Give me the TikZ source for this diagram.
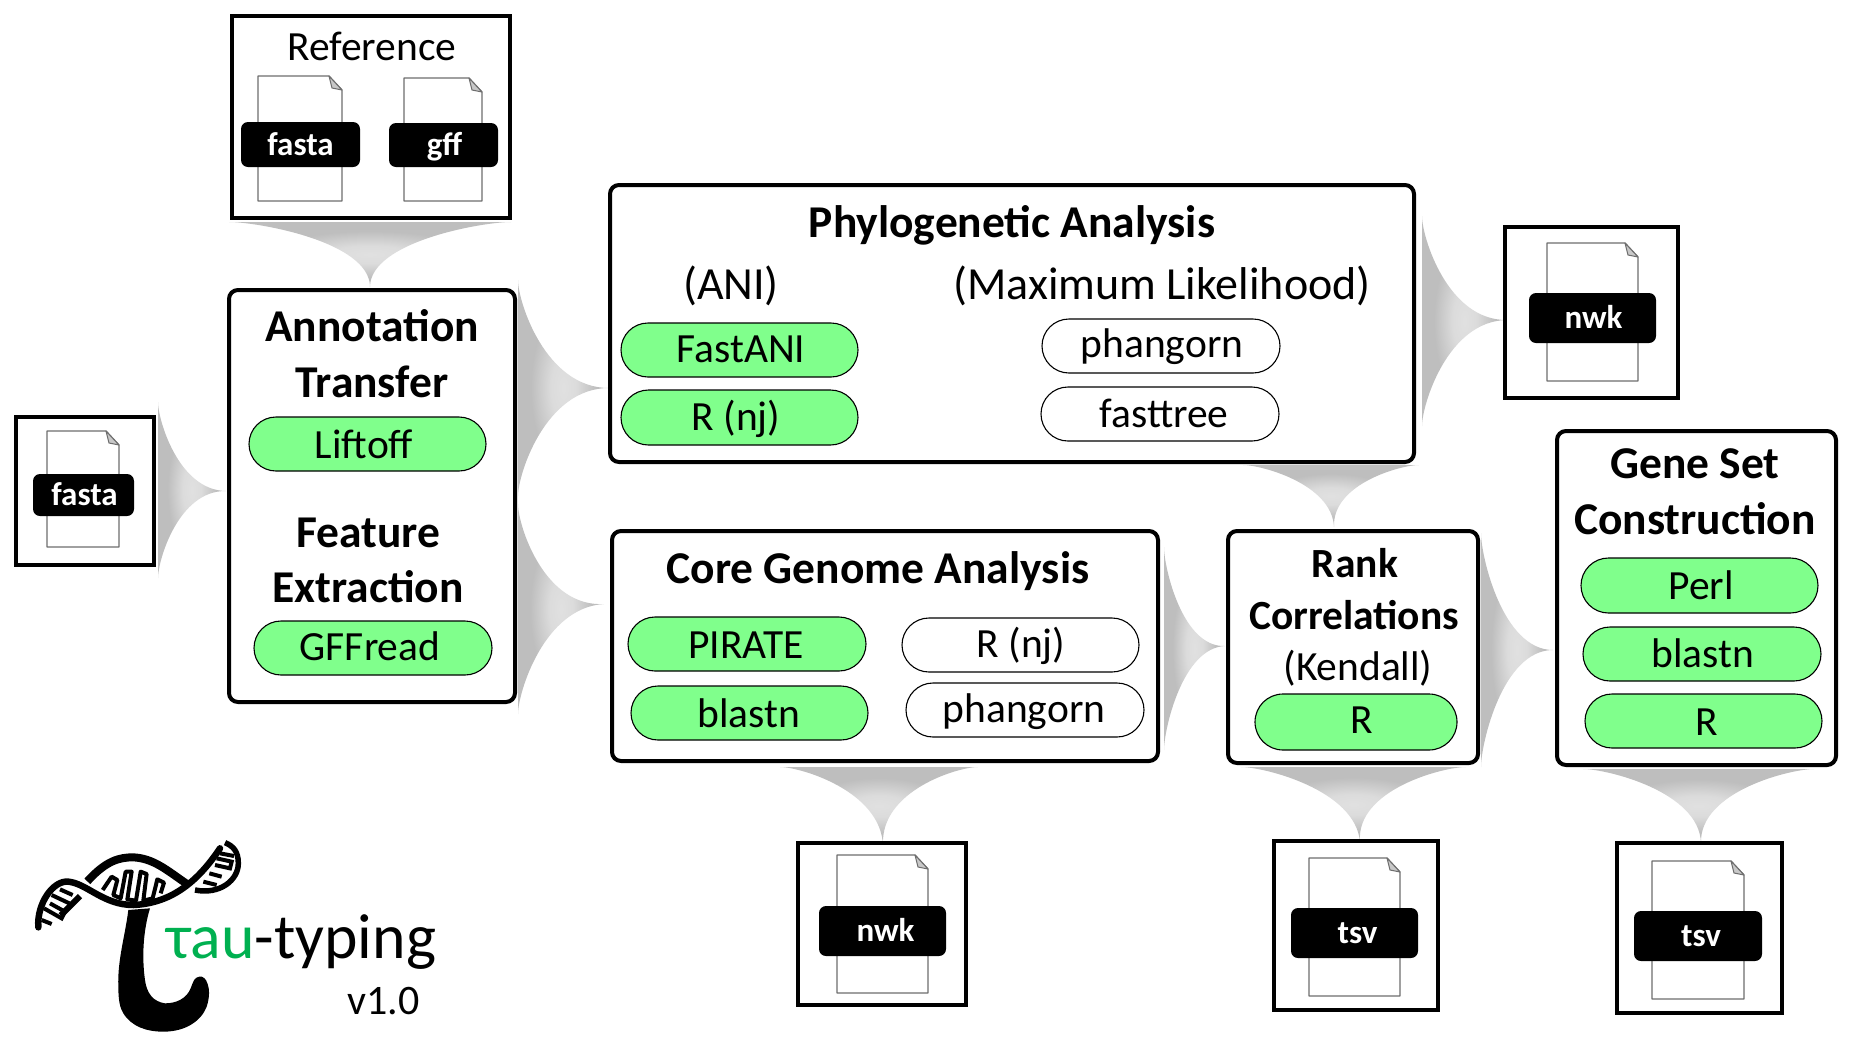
\documentclass[tikz,border=0pt]{standalone}
\usepackage{fontspec}
\setmainfont{Carlito}
\usetikzlibrary{calc,shapes.misc}
\definecolor{pillgreen}{HTML}{80FF8C}
\definecolor{taugreen}{HTML}{00B050}
\definecolor{docgray}{HTML}{6E6E6E}
\definecolor{foldgray}{HTML}{C8C8C8}
\pgfdeclareradialshading{flareshade}{\pgfpointorigin}{rgb(0bp)=(.88,.88,.88); rgb(7bp)=(.86,.86,.86); rgb(18bp)=(.745,.745,.745); rgb(50bp)=(.745,.745,.745)}
\tikzset{
  flarefill/.style={shading=flareshade},
  panel/.style={draw=black,line width=4pt,fill=white,rounded corners=9pt,inner sep=0pt,outer sep=0pt},
  ioframe/.style={draw=black,line width=4pt,fill=white,inner sep=0pt,outer sep=0pt},
  pillbody/.style={draw=black,line width=1.1pt,rounded rectangle,inner sep=0pt,outer sep=0pt},
  pillon/.style={pillbody,fill=pillgreen},
  pilloff/.style={pillbody,fill=white},
  tag/.style={fill=black,rounded corners=7pt,inner sep=0pt,outer sep=0pt},
  tagtext/.style={text=white,font=\fontsize{33}{33}\selectfont\bfseries,inner sep=0pt},
  titletext/.style={font=\fontsize{45.5}{45.5}\selectfont\bfseries,inner sep=0pt,anchor=center},
  ranktext/.style={font=\fontsize{41.5}{41.5}\selectfont\bfseries,inner sep=0pt,anchor=center},
  plaintext/.style={font=\fontsize{41.5}{41.5}\selectfont,inner sep=0pt,anchor=center},
  subtext/.style={font=\fontsize{46}{46}\selectfont,inner sep=0pt,anchor=center},
  docline/.style={draw=docgray,line width=1.3pt,fill=white,line join=round},
  foldline/.style={draw=docgray,line width=1pt,fill=foldgray,line join=round},
}
% name, corner a, corner b, tip
\newcommand{\flareconn}[4]{%
  \coordinate (#1a) at (#2);\coordinate (#1b) at (#3);\coordinate (#1t) at (#4);
  \coordinate (#1m) at ($(#1a)!.5!(#1b)$);
  \path[flarefill] (#1a) .. controls ($(#1a)!.2!(#1m)$) and ($(#1m)!.3!(#1t)$) .. (#1t)
     .. controls ($(#1m)!.3!(#1t)$) and ($(#1b)!.2!(#1m)$) .. (#1b) -- cycle;}
% style, name, x1,y1,x2,y2
\newcommand{\boxat}[6]{%
  \pgfmathsetmacro{\bw}{#5-#3}\pgfmathsetmacro{\bh}{#6-#4}%
  \node[#1,minimum width=\bw pt,minimum height=\bh pt] (#2) at ({(#3+#5)/2},{(#4+#6)/2}) {};}
% style, name, x1,y1,x2,y2, text, tx,ty
\newcommand{\pillat}[9]{%
  \boxat{#1}{#2}{#3}{#4}{#5}{#6}%
  \node[plaintext] (#2t) at (#8,#9) {#7};}
% name,x1,y1,x2,y2
\newcommand{\docat}[5]{%
  \path[docline] (#2,#3) -- ({#4-13},#3) -- (#4,{#3+14}) -- (#4,#5) -- (#2,#5) -- cycle;
  \path[foldline] ({#4-13},#3) -- (#4,{#3+14}) -- ({#4-10},{#3+12}) -- cycle;
  \coordinate (#1) at ({(#2+#4)/2},{(#3+#5)/2});}
% name,x1,y1,x2,y2,text,text x offset
\newcommand{\tagat}[7]{%
  \boxat{tag}{#1}{#2}{#3}{#4}{#5}%
  \node[tagtext] at ($(#1)+(#7,4)$) {\strut#6};}
\begin{document}
\begin{tikzpicture}[x=1pt,y=-1pt]
\useasboundingbox (0,0) rectangle (1875,1050);
% connectors
\flareconn{fa}{158,402}{158,578}{226,491}
\flareconn{fb}{229,222}{511,222}{370,287}
\flareconn{fc}{518,280}{518,496}{609,388}
\flareconn{fd}{518,504}{518,714}{604,604}
\flareconn{fe}{1422,216}{1422,426}{1507,320}
\flareconn{ff}{1243,465}{1419,465}{1334,527}
\flareconn{fg}{1164,547}{1164,750}{1225,646}
\flareconn{fh}{1481,533}{1481,767}{1553,650}
\flareconn{fi}{1241,767}{1466,767}{1360,842}
\flareconn{fj}{1583,769}{1814,769}{1701,843}
\flareconn{fk}{780,767}{978,767}{883,845}
% input frames
\boxat{ioframe}{inF}{16}{417}{154}{565}
\docat{inFd}{47}{431}{119}{547}
\tagat{inFt}{33}{474}{134}{516}{fasta}{1}
\boxat{ioframe}{refF}{232}{16}{510}{218}
\node[plaintext] (refT) at (372,46) {Reference};
\docat{refAd}{258}{76}{342}{201}
\tagat{refAt}{241}{122}{360}{167}{fasta}{0}
\docat{refBd}{404}{78}{482}{201}
\tagat{refBt}{389}{123}{498}{167}{gff}{1}
% output frames
\boxat{ioframe}{oA}{1505}{227}{1678}{398}
\docat{oAd}{1547}{243}{1638}{381}
\tagat{oAt}{1529}{293}{1656}{343}{nwk}{1}
\boxat{ioframe}{oB}{798}{843}{966}{1005}
\docat{oBd}{837}{855}{928}{993}
\tagat{oBt}{819}{906}{946}{956}{nwk}{3}
\boxat{ioframe}{oC}{1274}{841}{1438}{1010}
\docat{oCd}{1309}{858}{1400}{996}
\tagat{oCt}{1291}{908}{1418}{958}{tsv}{3}
\boxat{ioframe}{oD}{1617}{843}{1782}{1013}
\docat{oDd}{1652}{861}{1744}{999}
\tagat{oDt}{1634}{911}{1762}{961}{tsv}{3}
% panels
\boxat{panel}{ann}{229}{290}{515}{702}
\node[titletext] at (372,326) {Annotation};
\node[titletext] at (372,382) {Transfer};
\pillat{pillon}{lift}{249}{417}{486}{471}{Liftoff}{364}{444}
\node[titletext] at (368,533) {Feature};
\node[titletext] at (368,587) {Extraction};
\pillat{pillon}{gffr}{254}{621}{492}{675}{GFFread}{370}{646}
\boxat{panel}{phy}{610}{185}{1414}{462}
\node[titletext] at (1012,225) {Phylogenetic Analysis};
\node[subtext] at (731,286) {(ANI)};
\node[subtext] at (1162,286) {(Maximum Likelihood)};
\pillat{pillon}{fani}{621}{323}{858}{377}{FastANI}{741}{349}
\pillat{pillon}{rnjA}{621}{390}{858}{445}{R (nj)}{736}{419}
\pillat{pilloff}{phaA}{1042}{319}{1280}{373}{phangorn}{1162}{347}
\pillat{pilloff}{ftre}{1041}{387}{1279}{441}{fasttree}{1164}{413}
\boxat{panel}{cor}{612}{531}{1158}{761}
\node[titletext] at (878,571) {Core Genome Analysis};
\pillat{pillon}{pira}{628}{617}{866}{671}{PIRATE}{746}{645}
\pillat{pillon}{blaA}{631}{686}{868}{740}{blastn}{749}{713}
\pillat{pilloff}{rnjB}{902}{618}{1139}{672}{R (nj)}{1021}{646}
\pillat{pilloff}{phaB}{906}{683}{1144}{737}{phangorn}{1024}{712}
\boxat{panel}{ran}{1228}{531}{1478}{763}
\node[ranktext] at (1355,563) {Rank};
\node[ranktext] at (1354,615) {Correlations};
\node[plaintext] at (1358,668) {(Kendall)};
\pillat{pillon}{rA}{1255}{694}{1457}{750}{R}{1362}{720}
\boxat{panel}{gen}{1557}{431}{1836}{765}
\node[titletext] at (1695,464) {Gene Set};
\node[titletext] at (1695,519) {Construction};
\pillat{pillon}{perl}{1581}{558}{1818}{613}{Perl}{1701}{585}
\pillat{pillon}{blaB}{1583}{627}{1821}{681}{blastn}{1703}{653}
\pillat{pillon}{rB}{1585}{694}{1822}{748}{R}{1707}{722}
% logo
\begin{scope}[shift={(30,840)},scale=1/3]
  \path[fill=black] (295,210) .. controls (285,290) and (262,360) .. (265,440)
     .. controls (265,480) and (270,505) .. (280,520)
     .. controls (305,560) and (350,575) .. (400,575)
     .. controls (470,575) and (515,540) .. (530,500)
     .. controls (540,470) and (538,445) .. (533,432)
     .. controls (528,415) and (518,408) .. (508,410)
     .. controls (492,412) and (490,425) .. (482,445)
     .. controls (470,475) and (440,490) .. (405,490)
     .. controls (370,485) and (350,460) .. (345,420)
     .. controls (335,350) and (340,270) .. (360,205) -- cycle;
  \draw[line width=6.5pt,line cap=round] (25,262) .. controls (20,190) and (70,120) .. (115,125)
     .. controls (170,130) and (220,195) .. (310,195)
     .. controls (420,190) and (500,130) .. (570,25);
  \draw[line width=8pt] (172,124) .. controls (230,60) and (270,52) .. (310,52)
     .. controls (370,55) and (410,90) .. (468,130);
  \draw[line width=6pt] (92,226) -- (150,168);
  \draw[line width=5.5pt] (495,150) .. controls (570,165) and (625,120) .. (625,70)
     .. controls (625,35) and (610,18) .. (585,8);
  \draw[line width=4pt,line join=round] (218,150) -- (245,110) -- (262,120) -- (250,165) -- (272,175) -- (287,95) -- (305,95)
     -- (292,178) -- (318,182) -- (332,95) -- (350,102) -- (340,182) -- (368,175) -- (382,118) -- (402,128) -- (392,160);
  \draw[line width=4pt] (35,240) -- (65,252) (42,205) -- (95,235) -- (105,215) -- (60,190)
     (65,165) -- (118,190) (90,148) -- (128,165);
  \draw[line width=4pt] (520,125) -- (560,135) (538,100) -- (575,110)
     (555,75) -- (600,85) -- (605,65) -- (560,55) (570,40) -- (612,48);
\end{scope}
\node[anchor=base west,inner sep=0pt,font=\fontsize{63.7}{63.7}\selectfont] (brand) at (166,958) {\textcolor{taugreen}{τau}-typing};
\node[anchor=base west,inner sep=0pt,font=\fontsize{42}{42}\selectfont] (ver) at (347,1014) {v1.0};
\end{tikzpicture}
\end{document}
